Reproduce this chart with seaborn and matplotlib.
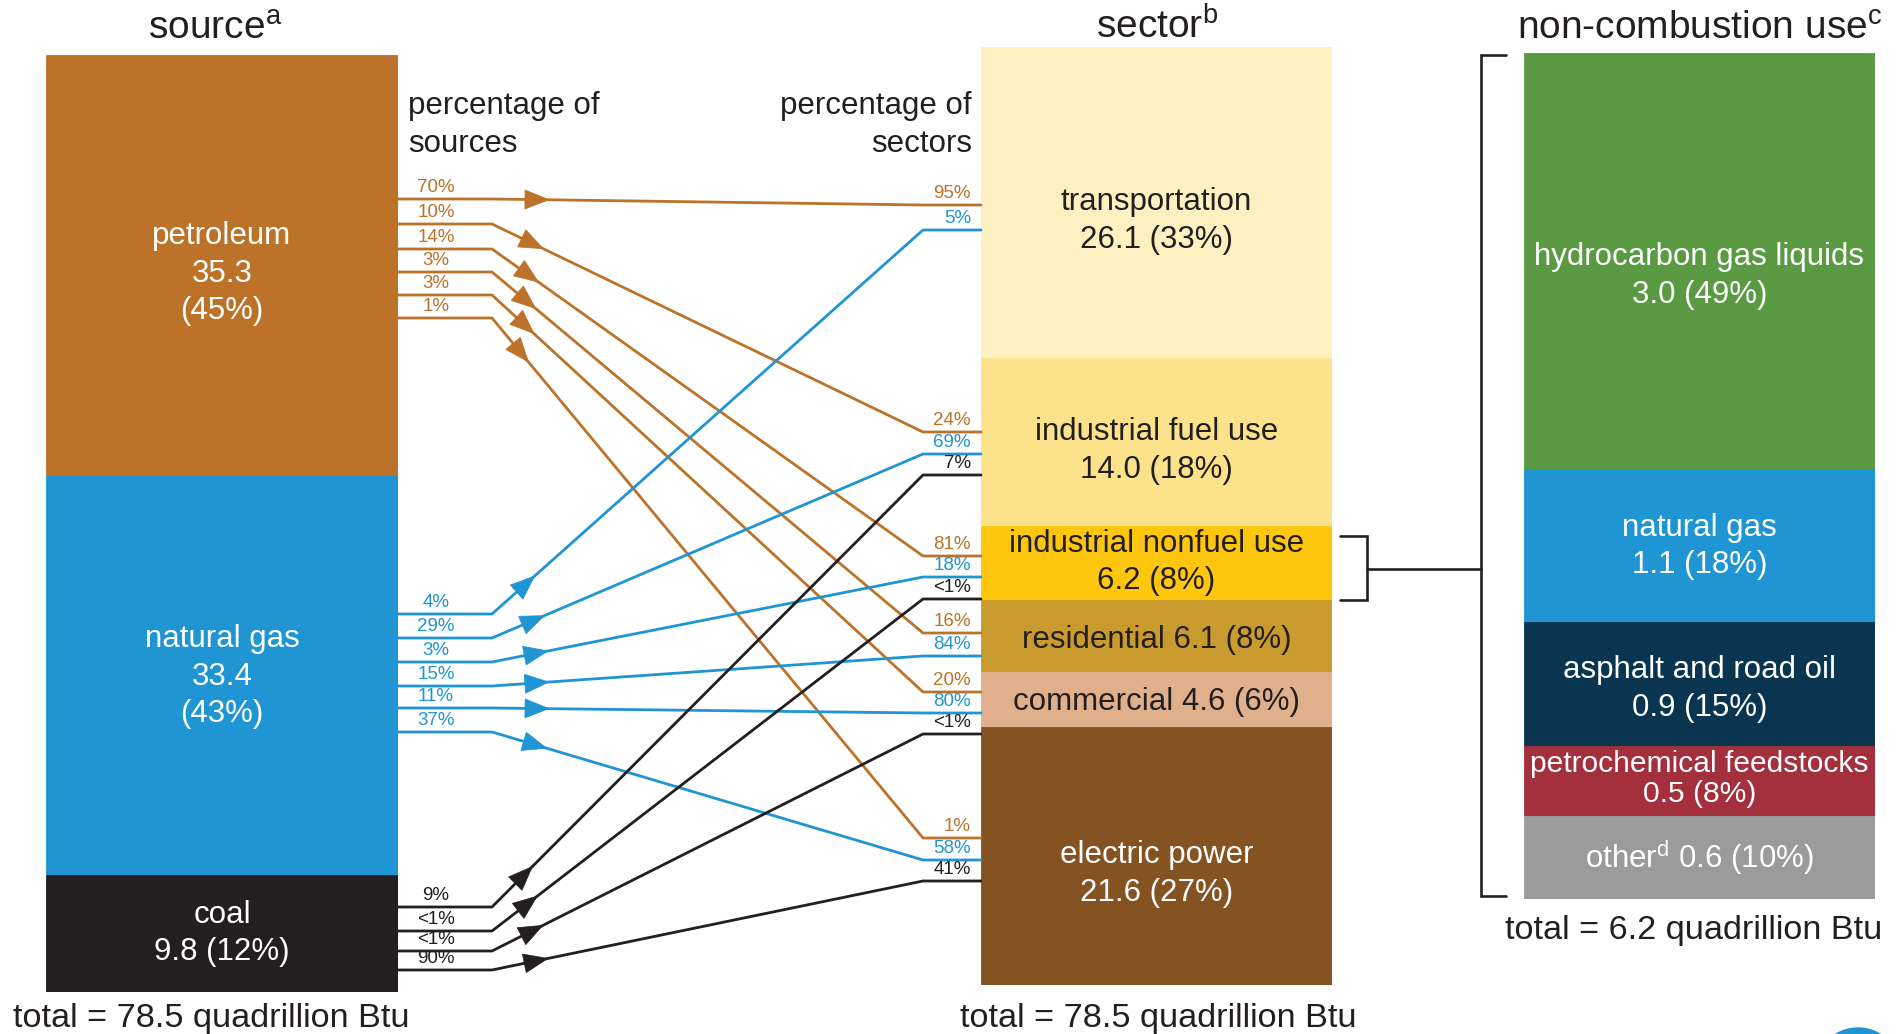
import matplotlib
matplotlib.use("Agg")
import matplotlib.pyplot as plt
import seaborn as sns
import numpy as np
import pandas as pd
from matplotlib.patches import Polygon, Circle

# ---------------- data ----------------
sources = ["petroleum", "natural gas", "coal"]
source_values = [35.3, 33.4, 9.8]
source_shares = [45, 43, 12]

sectors = ["transportation", "industrial fuel use", "industrial nonfuel use",
           "residential", "commercial", "electric power"]
sector_values = [26.1, 14.0, 6.2, 6.1, 4.6, 21.6]
sector_shares = [33, 18, 8, 8, 6, 27]

nonfuel_uses = ["hydrocarbon gas liquids", "natural gas", "asphalt and road oil",
                "petrochemical feedstocks", "other"]
nonfuel_values = [3.0, 1.1, 0.9, 0.5, 0.6]
nonfuel_shares = [49, 18, 15, 8, 10]

flow_source = ["petroleum"] * 6 + ["natural gas"] * 6 + ["coal"] * 4
flow_sector = ["transportation", "industrial fuel use", "industrial nonfuel use",
               "residential", "commercial", "electric power",
               "transportation", "industrial fuel use", "industrial nonfuel use",
               "residential", "commercial", "electric power",
               "industrial fuel use", "industrial nonfuel use", "commercial",
               "electric power"]
flow_pct_of_source = ["70%", "10%", "14%", "3%", "3%", "1%",
                      "4%", "29%", "3%", "15%", "11%", "37%",
                      "9%", "<1%", "<1%", "90%"]
flow_pct_of_sector = ["95%", "24%", "81%", "16%", "20%", "1%",
                      "5%", "69%", "18%", "84%", "80%", "58%",
                      "7%", "<1%", "<1%", "41%"]

total_all = "total = 78.5 quadrillion Btu"
total_nonfuel = "total = 6.2 quadrillion Btu"

# ---------------- layout / style ----------------
W, H = 1904, 1034
FONT = ["Liberation Sans", "DejaVu Sans"]
DARK = "#231F20"
WHITE = "#FFFFFF"

source_colors = ["#BC7329", "#1F95D3", "#231F20"]
sector_colors = ["#FDF1C2", "#FCE38B", "#FEC60D", "#C99A2E", "#DFB08B", "#855222"]
nonfuel_colors = ["#5A9A43", "#1F95D3", "#0A3550", "#A5303D", "#9B9B9B"]

source_text_colors = [WHITE, WHITE, WHITE]
sector_text_colors = [DARK, DARK, DARK, DARK, DARK, WHITE]
nonfuel_text_colors = [WHITE] * 5

# label line-break style and vertical pixel offsets (layout)
source_fmt = ["3", "3", "2"]
sector_fmt = ["2", "2", "2", "1", "1", "2"]
nonfuel_fmt = ["2", "2", "2", "2", "1"]
source_dy = [8, 1, 0]
sector_dy = [18, 9, 0, 4, 2, 18]
nonfuel_dy = [15, 1, 5, -2, 0]

flow_y_left = [199, 224, 249, 272, 295, 318,
               614, 638, 662, 686, 708, 732,
               907, 931, 951, 970]
flow_y_right = [205, 432, 556, 633, 692, 838,
                230, 454, 577, 656, 713, 860,
                475, 599, 734, 881]

sns.set_theme(style="white")
plt.rcParams["font.family"] = FONT
plt.rcParams["mathtext.fontset"] = "custom"
plt.rcParams["mathtext.rm"] = "Liberation Sans"
plt.rcParams["mathtext.it"] = "Liberation Sans"

fig = plt.figure(figsize=(W / 100, H / 100), dpi=100)
fig.patch.set_facecolor("white")

LABEL_FS = 22.5
LSP = 1.33


def make_label(name, value, share, fmt):
    if name == "other":
        name = r"other$^{\mathrm{d}}$"
    if fmt == "3":
        return f"{name}\n{value:.1f}\n({share}%)"
    if fmt == "2":
        return f"{name}\n{value:.1f} ({share}%)"
    return f"{name} {value:.1f} ({share}%)"


def stacked_bar(px, names, values, shares, colors, tcolors, fmts, dys):
    x0, x1, y0, y1 = px
    ax = fig.add_axes([x0 / W, 1 - y1 / H, (x1 - x0) / W, (y1 - y0) / H])
    bottoms = np.concatenate([[0.0], np.cumsum(values)[:-1]])
    for n, v, b, c in zip(names, values, bottoms, colors):
        sns.barplot(x=["bar"], y=[v], bottom=b, color=c, width=1.0,
                    saturation=1, errorbar=None, edgecolor=c, linewidth=0.6, ax=ax)
    ax.set_xlim(-0.5, 0.5)
    ax.set_ylim(sum(values), 0)
    ax.axis("off")
    for n, v, s, b, tc, f, dy in zip(names, values, shares, bottoms, tcolors, fmts, dys):
        tight = n == "petrochemical feedstocks"
        ax.annotate(make_label(n, v, s, f), xy=(0, b + v / 2), xytext=(0, -dy),
                    textcoords="offset pixels", ha="center", va="center",
                    fontsize=21.6 if tight else LABEL_FS, color=tc,
                    linespacing=1.12 if tight else LSP, family=FONT)
    return ax


stacked_bar((46, 398, 55, 992), sources, source_values, source_shares,
            source_colors, source_text_colors, source_fmt, source_dy)
stacked_bar((981, 1332, 47, 985), sectors, sector_values, sector_shares,
            sector_colors, sector_text_colors, sector_fmt, sector_dy)
stacked_bar((1524, 1875, 53, 899), nonfuel_uses, nonfuel_values, nonfuel_shares,
            nonfuel_colors, nonfuel_text_colors, nonfuel_fmt, nonfuel_dy)

# ---------------- overlay for flows and annotations ----------------
ov = fig.add_axes([0, 0, 1, 1])
ov.set_facecolor("none")

XL0, XL1, XR1, XR0 = 398, 492, 923, 981
rows = []
for i, (src, yl, yr) in enumerate(zip(flow_source, flow_y_left, flow_y_right)):
    for k, (xx, yy) in enumerate([(XL0, yl), (XL1, yl), (XR1, yr), (XR0, yr)]):
        rows.append({"flow": i, "order": k, "source": src, "x": xx, "y": yy})
flows = pd.DataFrame(rows)
palette = dict(zip(sources, source_colors))
sns.lineplot(data=flows, x="x", y="y", units="flow", hue="source", palette=palette,
             estimator=None, sort=False, legend=False, linewidth=2.0, ax=ov)

for i, (src, yl, yr) in enumerate(zip(flow_source, flow_y_left, flow_y_right)):
    c = palette[src]
    p1 = np.array([XL1, yl], float)
    p2 = np.array([XR1, yr], float)
    d = (p2 - p1) / np.linalg.norm(p2 - p1)
    nrm = np.array([-d[1], d[0]])
    tip = p1 + d * 57
    base = tip - d * 24
    tri = Polygon([tip, base + nrm * 9.5, base - nrm * 9.5], closed=True,
                  facecolor=c, edgecolor=c, lw=0.5, zorder=5)
    ov.add_patch(tri)
    ov.text(436, yl - 3, flow_pct_of_source[i], ha="center", va="bottom",
            fontsize=13.5, color=c)
    ov.text(971, yr - 3, flow_pct_of_sector[i], ha="right", va="bottom",
            fontsize=13.5, color=c)

# titles
ov.text(215, 39, r"source$^{\mathrm{a}}$", ha="center", va="baseline", fontsize=28, color=DARK)
ov.text(1157, 39, r"sector$^{\mathrm{b}}$", ha="center", va="baseline", fontsize=28, color=DARK)
ov.text(1700, 39, r"non-combustion use$^{\mathrm{c}}$", ha="center", va="baseline",
        fontsize=28, color=DARK)

ov.text(408, 125, "percentage of\nsources", ha="left", va="center", fontsize=LABEL_FS,
        color=DARK, linespacing=LSP)
ov.text(972, 125, "percentage of\nsectors", ha="right", va="center", fontsize=LABEL_FS,
        color=DARK, linespacing=LSP, multialignment="right")

ov.text(211, 1018, total_all, ha="center", va="center", fontsize=24.7, color=DARK)
ov.text(1158, 1018, total_all, ha="center", va="center", fontsize=24.7, color=DARK)
ov.text(1694, 930, total_nonfuel, ha="center", va="center", fontsize=24.7, color=DARK)

# brackets
blw = 1.9
ov.plot([1340, 1367, 1367, 1340], [536, 536, 600, 600], color=DARK, lw=blw,
        solid_joinstyle="miter")
ov.plot([1367, 1481], [569, 569], color=DARK, lw=blw)
ov.plot([1506, 1481, 1481, 1506], [55, 55, 896, 896], color=DARK, lw=blw,
        solid_joinstyle="miter")

# partial logo circle at the bottom-right corner
ov.add_patch(Circle((1858, 1071), 43, color="#1F95D3", zorder=6))

ov.set_xlim(0, W)
ov.set_ylim(H, 0)
ov.axis("off")

fig.savefig("out.png", dpi=100, facecolor="white")
